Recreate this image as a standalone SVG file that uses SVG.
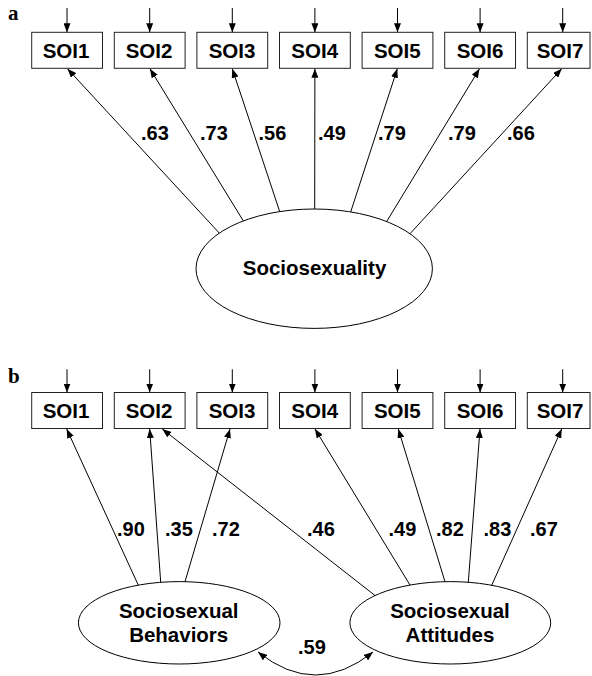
<svg xmlns="http://www.w3.org/2000/svg" width="592" height="676" viewBox="0 0 592 676">
<defs>
<marker id="ah" markerUnits="userSpaceOnUse" markerWidth="9" markerHeight="7" refX="9" refY="3.5" orient="auto-start-reverse">
<path d="M0,0 L9,3.5 L0,7 z" fill="#000"/>
</marker>
<style>
.box{fill:#fff;stroke:#222;stroke-width:1}
.ell{fill:#fff;stroke:#000;stroke-width:1}
.t{font-family:"Liberation Sans",Arial,sans-serif;font-weight:bold;font-size:20.5px;fill:#000;text-anchor:middle}
.lb{font-family:"Liberation Sans",Arial,sans-serif;font-weight:bold;font-size:20px;fill:#000}
.pl{font-family:"Liberation Serif","Times New Roman",serif;font-weight:bold;font-size:21px;fill:#000}
.c line,.c path{stroke:#000;stroke-width:1;fill:none;marker-end:url(#ah)}
</style>
</defs>
<rect width="592" height="676" fill="#fff"/>
<text class="pl" x="8" y="20">a</text>
<text class="pl" x="8" y="383">b</text>

<!-- Panel a nodes -->
<g id="a_soi1"><rect class="box" x="31.7" y="32.3" width="70.8" height="36"/><text class="t" x="66" y="57.5">SOI1</text></g>
<g id="a_soi2"><rect class="box" x="114.3" y="32.3" width="70.8" height="36"/><text class="t" x="149" y="57.5">SOI2</text></g>
<g id="a_soi3"><rect class="box" x="196.9" y="32.3" width="70.8" height="36"/><text class="t" x="232" y="57.5">SOI3</text></g>
<g id="a_soi4"><rect class="box" x="279.5" y="32.3" width="70.8" height="36"/><text class="t" x="314.7" y="57.5">SOI4</text></g>
<g id="a_soi5"><rect class="box" x="362.1" y="32.3" width="70.8" height="36"/><text class="t" x="397.3" y="57.5">SOI5</text></g>
<g id="a_soi6"><rect class="box" x="444.7" y="32.3" width="70.8" height="36"/><text class="t" x="480" y="57.5">SOI6</text></g>
<g id="a_soi7"><rect class="box" x="527.3" y="32.3" width="62.7" height="36"/><text class="t" x="560" y="57.5">SOI7</text></g>
<g id="a_socio"><ellipse class="ell" cx="314.2" cy="268.7" rx="118.2" ry="59.7"/><text class="t" x="314.5" y="274.5">Sociosexuality</text></g>

<!-- Panel b nodes -->
<g id="b_soi1"><rect class="box" x="31.7" y="392.5" width="70.8" height="36"/><text class="t" x="66" y="418">SOI1</text></g>
<g id="b_soi2"><rect class="box" x="114.3" y="392.5" width="70.8" height="36"/><text class="t" x="149" y="418">SOI2</text></g>
<g id="b_soi3"><rect class="box" x="196.9" y="392.5" width="70.8" height="36"/><text class="t" x="232" y="418">SOI3</text></g>
<g id="b_soi4"><rect class="box" x="279.5" y="392.5" width="70.8" height="36"/><text class="t" x="314.7" y="418">SOI4</text></g>
<g id="b_soi5"><rect class="box" x="362.1" y="392.5" width="70.8" height="36"/><text class="t" x="397.3" y="418">SOI5</text></g>
<g id="b_soi6"><rect class="box" x="444.7" y="392.5" width="70.8" height="36"/><text class="t" x="480" y="418">SOI6</text></g>
<g id="b_soi7"><rect class="box" x="527.3" y="392.5" width="62.7" height="36"/><text class="t" x="560" y="418">SOI7</text></g>
<g id="b_beh"><ellipse class="ell" cx="179.2" cy="622.8" rx="100.8" ry="41.2"/><text class="t" x="178.7" y="617.5">Sociosexual</text><text class="t" x="178.7" y="642">Behaviors</text></g>
<g id="b_att"><ellipse class="ell" cx="450.3" cy="622.8" rx="100.4" ry="41.2"/><text class="t" x="450" y="617.5">Sociosexual</text><text class="t" x="450" y="642">Attitudes</text></g>

<!-- Connectors -->
<g id="connectors" class="c">
<!-- panel a error arrows -->
<line x1="67" y1="8" x2="67" y2="32.3"/>
<line x1="149.7" y1="8" x2="149.7" y2="32.3"/>
<line x1="232.3" y1="8" x2="232.3" y2="32.3"/>
<line x1="314.9" y1="8" x2="314.9" y2="32.3"/>
<line x1="397.5" y1="8" x2="397.5" y2="32.3"/>
<line x1="480.1" y1="8" x2="480.1" y2="32.3"/>
<line x1="562.7" y1="8" x2="562.7" y2="32.3"/>
<!-- panel a loadings -->
<line x1="219.3" y1="233.1" x2="67.5" y2="68.8"/>
<line x1="243.3" y1="220.9" x2="150" y2="68.8"/>
<line x1="279.7" y1="211.6" x2="232.3" y2="68.8"/>
<line x1="314.7" y1="209" x2="314.9" y2="68.8"/>
<line x1="350.7" y1="211.9" x2="397.3" y2="68.8"/>
<line x1="386.7" y1="221.5" x2="479.5" y2="68.8"/>
<line x1="410" y1="233.7" x2="561.7" y2="68.8"/>
<!-- panel b error arrows -->
<line x1="67" y1="369.3" x2="67" y2="392.5"/>
<line x1="149.7" y1="369.3" x2="149.7" y2="392.5"/>
<line x1="232.3" y1="369.3" x2="232.3" y2="392.5"/>
<line x1="314.9" y1="369.3" x2="314.9" y2="392.5"/>
<line x1="397.5" y1="369.3" x2="397.5" y2="392.5"/>
<line x1="480.1" y1="369.3" x2="480.1" y2="392.5"/>
<line x1="562.7" y1="369.3" x2="562.7" y2="392.5"/>
<!-- panel b loadings -->
<line x1="138.3" y1="585.2" x2="66.7" y2="429"/>
<line x1="160.7" y1="582.3" x2="149.7" y2="429"/>
<line x1="185" y1="581.7" x2="230" y2="429"/>
<line x1="375" y1="595.5" x2="162.3" y2="429"/>
<line x1="410" y1="585.1" x2="315" y2="429"/>
<line x1="445" y1="581.7" x2="398.3" y2="429"/>
<line x1="468.3" y1="582.3" x2="480" y2="429"/>
<line x1="491.7" y1="585.3" x2="561.7" y2="429"/>
<!-- correlation -->
<path d="M258,652 Q315.5,698 373,652" style="marker-start:url(#ah)"/>
</g>

<!-- Labels -->
<g id="labels">
<text class="lb" x="141" y="140">.63</text>
<text class="lb" x="200" y="140">.73</text>
<text class="lb" x="258.5" y="140">.56</text>
<text class="lb" x="318" y="140">.49</text>
<text class="lb" x="378" y="140">.79</text>
<text class="lb" x="448" y="140">.79</text>
<text class="lb" x="507" y="140">.66</text>
<text class="lb" x="117" y="536">.90</text>
<text class="lb" x="165" y="536">.35</text>
<text class="lb" x="212" y="536">.72</text>
<text class="lb" x="307" y="536">.46</text>
<text class="lb" x="388.5" y="536">.49</text>
<text class="lb" x="436" y="536">.82</text>
<text class="lb" x="483.5" y="536">.83</text>
<text class="lb" x="530" y="536">.67</text>
<text class="lb" x="298" y="654">.59</text>
</g>
</svg>
